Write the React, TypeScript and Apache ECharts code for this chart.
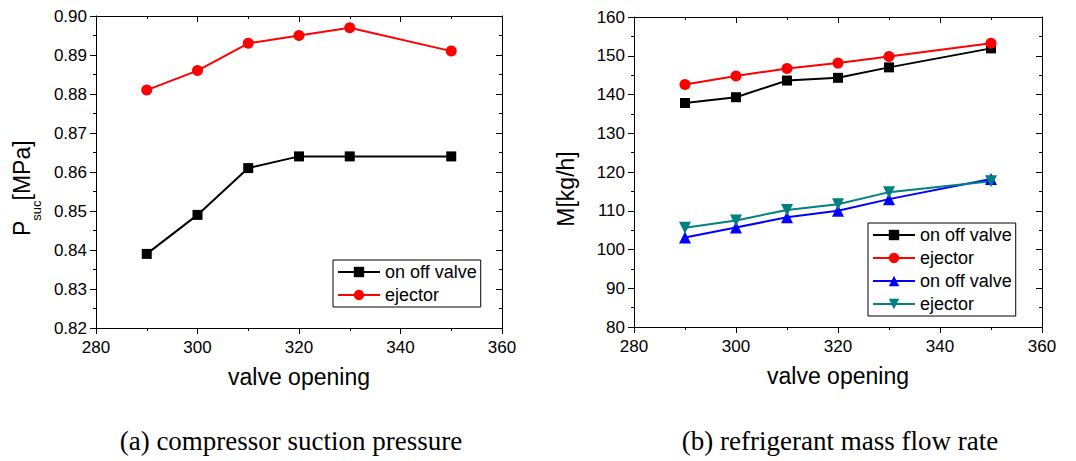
import React, { useEffect, useRef } from "react";
import * as echarts from "echarts";

const valveOpening = [290, 300, 310, 320, 330, 350];

// (a) compressor suction pressure [MPa]
const pressureOnOff = [0.839, 0.849, 0.861, 0.864, 0.864, 0.864];
const pressureEjector = [0.881, 0.886, 0.893, 0.895, 0.897, 0.891];

// (b) refrigerant mass flow rate [kg/h]
const flowOnOffHigh = [137.8, 139.3, 143.6, 144.3, 147.0, 151.9];
const flowEjectorHigh = [142.6, 144.8, 146.7, 148.1, 149.8, 153.2];
const flowOnOffLow = [103.1, 105.7, 108.3, 110.0, 113.0, 118.2];
const flowEjectorLow = [105.6, 107.5, 110.2, 111.7, 114.8, 117.6];

const legendLabels: Record<string, string> = {
  a1: "on off valve",
  a2: "ejector",
  b1: "on off valve",
  b2: "ejector",
  b3: "on off valve",
  b4: "ejector",
};

const captions = ["(a) compressor suction pressure", "(b) refrigerant mass flow rate"];
const xTitle = "valve opening";
const yTitleA = ["P", "suc", "[MPa]"];
const yTitleB = "M[kg/h]";

const FONT = "Liberation Sans, Arial, sans-serif";
const SERIF = "Liberation Serif, Times New Roman, serif";

function pairs(xs: number[], ys: number[]) {
  return xs.map((x, i) => [x, ys[i]]);
}

export default function App() {
  const ref = useRef<HTMLDivElement>(null);

  useEffect(() => {
    if (!ref.current) return;
    const chart = echarts.init(ref.current, undefined, { renderer: "svg" });

    const axisBase = (inside: boolean) => ({
      axisLine: { show: true, lineStyle: { color: "#000", width: 1 } },
      axisTick: { show: true, inside, length: 6, lineStyle: { color: "#000" } },
      minorTick: { show: true, splitNumber: 2, length: 3, lineStyle: { color: "#000" } },
      splitLine: { show: false },
      minorSplitLine: { show: false },
    });

    const xMain = (gridIndex: number) => ({
      type: "value",
      gridIndex,
      min: 280,
      max: 360,
      interval: 20,
      position: "bottom",
      ...axisBase(false),
      axisLabel: { color: "#000", fontSize: 17, fontFamily: FONT, margin: 11 },
      name: xTitle,
      nameLocation: "middle",
      nameGap: 37,
      nameTextStyle: { color: "#000", fontSize: 23, fontFamily: FONT },
    });
    const xTop = (gridIndex: number) => ({
      type: "value",
      gridIndex,
      min: 280,
      max: 360,
      interval: 20,
      position: "top",
      ...axisBase(true),
      axisLabel: { show: false },
    });

    const seriesLine = (
      name: string,
      axisIdx: number,
      xs: number[],
      ys: number[],
      color: string,
      symbol: string,
      symbolSize: number,
      symbolRotate = 0
    ) => ({
      type: "line",
      name,
      xAxisIndex: axisIdx,
      yAxisIndex: axisIdx,
      data: pairs(xs, ys),
      symbol,
      symbolSize,
      symbolRotate,
      lineStyle: { color, width: 2 },
      itemStyle: { color },
      showSymbol: true,
      z: 3,
    });

    const legendCommon = {
      orient: "vertical",
      itemWidth: 42,
      itemHeight: 13,
      itemGap: 5,
      padding: [3, 4, 3, 4],
      borderColor: "#000",
      borderWidth: 1,
      backgroundColor: "#fff",
      selectedMode: false,
      formatter: (n: string) => legendLabels[n],
      textStyle: { color: "#000", fontSize: 18, fontFamily: FONT },
    };

    const rotText = (text: string, x: number, y: number, size: number, align: string) => ({
      type: "text",
      x,
      y,
      rotation: Math.PI / 2,
      style: {
        text,
        fontFamily: FONT,
        fontSize: size,
        fill: "#000",
        textAlign: align,
        textVerticalAlign: "middle",
      },
    });

    // left y-title pieces: P (23px), subscript suc (13px), [MPa] (23px), read bottom to top
    const pW = 0.667 * 23;
    const sucW = 1.556 * 13;
    const yStart = 236;

    chart.setOption({
      animation: false,
      backgroundColor: "#fff",
      grid: [
        { left: 96, top: 16, width: 406, height: 312 },
        { left: 634, top: 17, width: 408, height: 310 },
      ],
      xAxis: [xMain(0), xMain(1), xTop(0), xTop(1)],
      yAxis: [
        {
          type: "value",
          gridIndex: 0,
          min: 0.82,
          max: 0.9,
          interval: 0.01,
          position: "left",
          ...axisBase(false),
          axisLabel: {
            color: "#000",
            fontSize: 17,
            fontFamily: FONT,
            margin: 9,
            formatter: (v: number) => v.toFixed(2),
          },
        },
        {
          type: "value",
          gridIndex: 1,
          min: 80,
          max: 160,
          interval: 10,
          position: "left",
          ...axisBase(false),
          axisLabel: { color: "#000", fontSize: 17, fontFamily: FONT, margin: 9 },
        },
        {
          type: "value",
          gridIndex: 0,
          min: 0.82,
          max: 0.9,
          interval: 0.01,
          position: "right",
          ...axisBase(true),
          axisLabel: { show: false },
        },
        {
          type: "value",
          gridIndex: 1,
          min: 80,
          max: 160,
          interval: 10,
          position: "right",
          ...axisBase(true),
          axisLabel: { show: false },
        },
      ],
      legend: [
        { ...legendCommon, left: 333, top: 260, data: ["a1", "a2"] },
        { ...legendCommon, left: 868, top: 223, data: ["b1", "b2", "b3", "b4"] },
      ],
      series: [
        seriesLine("a1", 0, valveOpening, pressureOnOff, "#000000", "rect", 10),
        seriesLine("a2", 0, valveOpening, pressureEjector, "#ff0000", "circle", 11),
        seriesLine("b1", 1, valveOpening, flowOnOffHigh, "#000000", "rect", 10),
        seriesLine("b2", 1, valveOpening, flowEjectorHigh, "#ff0000", "circle", 11),
        seriesLine("b3", 1, valveOpening, flowOnOffLow, "#0000ff", "triangle", 12),
        seriesLine("b4", 1, valveOpening, flowEjectorLow, "#008080", "triangle", 12, 180),
      ],
      graphic: [
        rotText(yTitleA[0], 22, yStart, 23, "left"),
        rotText(yTitleA[1], 36, yStart - pW, 13, "left"),
        rotText(yTitleA[2], 22, yStart - pW - sucW, 23, "left"),
        rotText(yTitleB, 566, 189, 23, "center"),
        {
          type: "text",
          x: 291,
          y: 441,
          style: {
            text: captions[0],
            fontFamily: SERIF,
            fontSize: 27,
            fill: "#000",
            textAlign: "center",
            textVerticalAlign: "middle",
          },
        },
        {
          type: "text",
          x: 840,
          y: 441,
          style: {
            text: captions[1],
            fontFamily: SERIF,
            fontSize: 27,
            fill: "#000",
            textAlign: "center",
            textVerticalAlign: "middle",
          },
        },
      ],
    });

    return () => chart.dispose();
  }, []);

  return (
    <div
      ref={ref}
      style={{ position: "fixed", left: 0, top: 0, width: 1076, height: 461 }}
    />
  );
}
